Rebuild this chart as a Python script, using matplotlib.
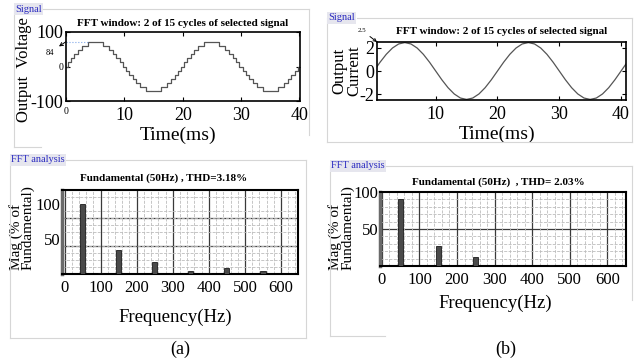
import matplotlib.pyplot as plt
from matplotlib.lines import Line2D
import numpy as np

W, H = 639, 360

# ---- values ----
# stepped output voltage, one 20 ms cycle: switching instants (ms) and levels
v_t = [0, 0.3, 0.8, 1.4, 2.0, 2.7, 3.7, 6.3, 7.3, 8.0, 8.6, 9.2, 9.7,
       10.3, 10.8, 11.4, 12.0, 12.7, 13.7, 16.3, 17.3, 18.0, 18.6, 19.2, 19.7]
v_lvl = [0, 12, 24, 36, 48, 60, 72, 60, 48, 36, 24, 12, 0,
         -12, -24, -36, -48, -60, -72, -60, -48, -36, -24, -12, 0]

# output current sampled every 1 ms
cur_t = list(range(0, 42))
cur_a = [0, 0.76, 1.44, 1.98, 2.33, 2.45, 2.33, 1.98, 1.44, 0.76,
         0, -0.76, -1.44, -1.98, -2.33, -2.45, -2.33, -1.98, -1.44, -0.76,
         0, 0.76, 1.44, 1.98, 2.33, 2.45, 2.33, 1.98, 1.44, 0.76,
         0, -0.76, -1.44, -1.98, -2.33, -2.45, -2.33, -1.98, -1.44, -0.76,
         0, 0.76]

# FFT spectra (% of fundamental)
freq = [0, 50, 100, 150, 200, 250, 300, 350, 400, 450, 500, 550, 600, 650]
mag_a = [0.5, 100, 0.8, 35, 0.4, 17, 1.0, 4, 0.8, 8, 0.6, 4, 0.4, 0.5]
mag_b = [0.4, 90, 0.4, 26.5, 0.3, 11.5, 0.3, 2, 0.3, 1.5, 0.3, 0.6, 0.3, 0.8]

plt.rcParams['font.family'] = ['Liberation Serif', 'DejaVu Serif']
plt.rcParams['axes.unicode_minus'] = False


def rect(l, t, r, b):
    return [l / W, 1 - b / H, (r - l) / W, (b - t) / H]


def fline(fig, xs, ys, color='#d6d6d6'):
    fig.add_artist(Line2D([x / W for x in xs], [1 - y / H for y in ys],
                          color=color, lw=0.8))


def panel(fig, l, t, r, b, label, lab_w, bot_to=None, right_to=None):
    fline(fig, [l + lab_w, r], [t, t])
    fline(fig, [l, l], [t, b])
    fline(fig, [r, r], [t, right_to if right_to else b])
    fline(fig, [l, bot_to if bot_to else r], [b, b])
    fig.text((l + 1) / W, 1 - t / H, label, fontsize=7.5, color='#2a2ac0',
             va='center', ha='left',
             bbox=dict(boxstyle='square,pad=0.12', fc='#e6e6ee', ec='none'))


fig = plt.figure(figsize=(W / 100, H / 100), dpi=100)

panel(fig, 14, 9, 309, 147, 'Signal', 28, bot_to=41, right_to=135)
panel(fig, 327, 18, 632, 142, 'Signal', 30)
panel(fig, 10, 160, 306, 338, 'FFT analysis', 55)
panel(fig, 330, 166, 632, 336, 'FFT analysis', 56, bot_to=385, right_to=300)

# ---- (a) voltage ----
ax1 = fig.add_axes(rect(66, 32, 300, 101))
vt = v_t + [t + 20 for t in v_t] + [40.1]
vv = v_lvl + v_lvl + [0]
ax1.step(vt, vv, where='post', color='#555555', lw=0.9)
ax1.plot([0, 3.8], [72, 72], ls=':', color='#80a8e8', lw=0.8)
ax1.set_xlim(0, 40.1)
ax1.set_ylim(-100, 100)
ax1.set_xticks([0, 10, 20, 30, 40])
ax1.set_yticks([-100, 0, 100])
ax1.tick_params(direction='in', length=3, top=True, right=True, labelsize=13)
ax1.tick_params(axis='x', pad=4)
ax1.tick_params(axis='y', pad=2)
for lb in ax1.get_xticklabels()[:1] + ax1.get_yticklabels()[1:2]:
    lb.set_fontsize(7)
ax1.text(0.5, 1.06, 'FFT window: 2 of 15 cycles of selected signal',
         transform=ax1.transAxes, ha='center', va='bottom',
         fontsize=8, fontweight='bold')
ax1.set_ylabel('Output  Voltage', fontsize=12)
ax1.yaxis.set_label_coords(-0.145, 0.45)
ax1.set_xlabel('Time(ms)', fontsize=14)
ax1.xaxis.set_label_coords(0.48, -0.5)
ax1.xaxis.label.set_va('center')
ax1.annotate('84', xy=(0, 72), xycoords='data', xytext=(-0.07, 0.7),
             textcoords='axes fraction', fontsize=6, ha='center', va='center',
             arrowprops=dict(arrowstyle='<-', lw=0.7, color='black',
                             shrinkA=2, shrinkB=0))
for s in ax1.spines.values():
    s.set_linewidth(1.2)

# ---- (b) current ----
ax2 = fig.add_axes(rect(377, 42, 626, 100))
ax2.plot(cur_t, cur_a, color='#555555', lw=0.9)
ax2.set_xlim(0.5, 40.8)
ax2.set_ylim(-2.5, 2.5)
ax2.set_xticks([10, 20, 30, 40])
ax2.set_yticks([-2, 0, 2])
ax2.tick_params(direction='in', length=3, top=True, right=True, labelsize=13)
ax2.tick_params(axis='x', pad=4)
ax2.tick_params(axis='y', pad=2)
ax2.text(0.5, 1.1, 'FFT window: 2 of 15 cycles of selected signal',
         transform=ax2.transAxes, ha='center', va='bottom',
         fontsize=8, fontweight='bold')
ax2.set_ylabel('Output\nCurrent', fontsize=12, linespacing=0.9)
ax2.yaxis.set_label_coords(-0.06, 0.5)
ax2.set_xlabel('Time(ms)', fontsize=14)
ax2.xaxis.set_label_coords(0.48, -0.6)
ax2.xaxis.label.set_va('center')
ax2.annotate('2.5', xy=(0, 1), xycoords='axes fraction', xytext=(-0.06, 1.2),
             textcoords='axes fraction', fontsize=5, ha='center', va='center',
             arrowprops=dict(arrowstyle='->', lw=0.7, color='black',
                             shrinkA=1, shrinkB=0))
for s in ax2.spines.values():
    s.set_linewidth(1.2)


# ---- FFT bars ----
def fft_axes(pos, mags, xlim, ylim, majors, title, tx, ty):
    ax = fig.add_axes(pos)
    ax.bar(freq, mags, width=14, color='#4a4a4a', edgecolor='black', lw=0.5,
           zorder=3)
    ax.set_xlim(*xlim)
    ax.set_ylim(*ylim)
    ax.set_xticks(range(0, 700, 100))
    ax.set_xticks(range(0, 660, 20), minor=True)
    ax.set_yticks([50, 100])
    ax.set_yticks(range(0, int(ylim[1]) + 1, 10), minor=True)
    ax.grid(which='minor', color='#bdbdbd', ls='--', lw=0.6, zorder=0)
    ax.grid(which='major', axis='x', color='#3a3a3a', lw=0.9, zorder=1)
    for m in majors:
        ax.axhline(m, color='#3a3a3a', lw=0.9, zorder=1)
    ax.tick_params(which='both', length=0, labelsize=12, pad=4)
    ax.tick_params(axis='y', pad=1)
    for s in ax.spines.values():
        s.set_linewidth(1.5)
    ax.spines['left'].set_color('#6a6a6a')
    ax.spines['left'].set_linewidth(2.5)
    ax.text(tx, ty, title, transform=ax.transAxes, ha='center',
            va='bottom', fontsize=8, fontweight='bold')
    ax.set_ylabel('Mag (% of\nFundamental)', fontsize=11, linespacing=0.85,
                  multialignment='left')
    ax.set_xlabel('Frequency(Hz)', fontsize=13.5)
    ax.xaxis.label.set_va('center')
    return ax


ax3 = fft_axes(rect(62, 190, 298, 274), mag_a, (-7, 647), (0, 120), [40, 80],
               'Fundamental (50Hz) , THD=3.18%', 0.43, 1.08)
ax3.yaxis.set_label_coords(-0.115, 0.55)
ax3.xaxis.set_label_coords(0.48, -0.52)

ax4 = fft_axes(rect(380, 192, 626, 266), mag_b, (-5, 650), (0, 100), [50],
               'Fundamental (50Hz)  , THD= 2.03%', 0.48, 1.07)
ax4.yaxis.set_label_coords(-0.105, 0.52)
ax4.xaxis.set_label_coords(0.47, -0.5)

fig.text(180 / W, 1 - 349 / H, '(a)', fontsize=13, ha='center', va='center')
fig.text(506 / W, 1 - 349 / H, '(b)', fontsize=13, ha='center', va='center')

fig.savefig('out.png', dpi=100)
